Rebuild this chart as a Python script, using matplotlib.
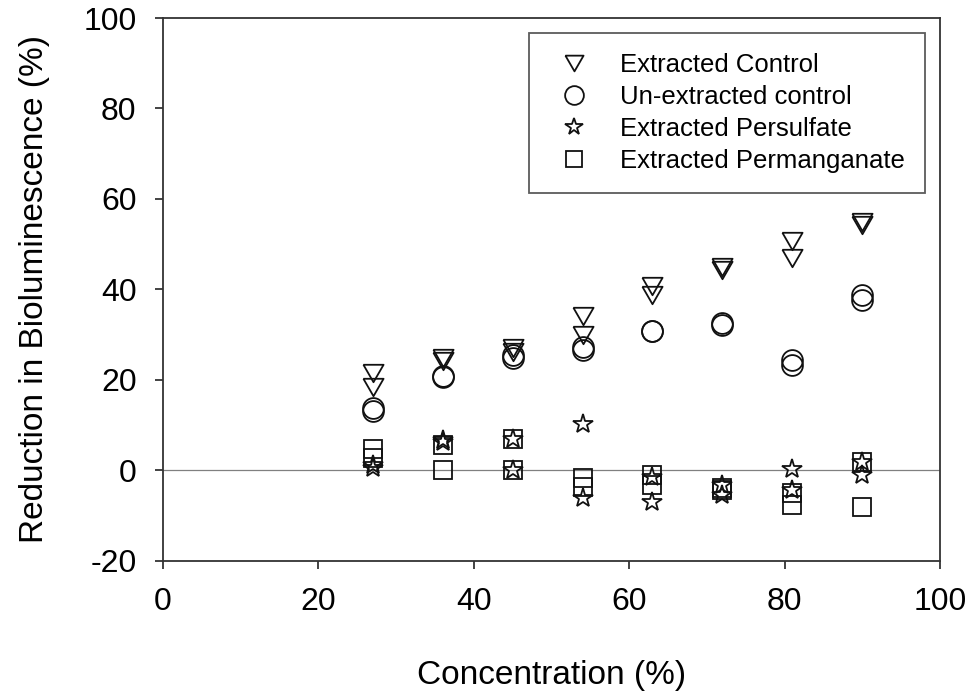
import matplotlib
matplotlib.use("Agg")
import matplotlib.pyplot as plt

plt.rcParams['font.family'] = ['Liberation Sans', 'DejaVu Sans']
plt.rcParams['axes.unicode_minus'] = False

# concentration levels (two replicates each)
conc = [27, 27, 36, 36, 45, 45, 54, 54, 63, 63, 72, 72, 81, 81, 90, 90]

extracted_control = [21.5, 18.4, 24.8, 24.1, 27.0, 26.1, 34.1, 29.9,
                     40.7, 38.7, 44.9, 44.3, 50.7, 46.9, 54.8, 54.3]
unextracted_control = [13.8, 13.2, 20.9, 20.7, 25.5, 24.8, 27.2, 26.6,
                       30.9, 30.7, 32.5, 32.2, 24.4, 23.3, 38.7, 37.6]
persulfate = [1.2, 0.5, 6.7, 6.2, 6.9, 0.0, 10.2, -6.2,
              -1.5, -7.0, -3.3, -5.5, 0.3, -4.4, 1.8, -1.1]
permanganate = [4.7, 2.7, 5.6, 0.0, 6.9, 0.0, -1.7, -3.7,
                -1.1, -3.3, -4.0, -4.4, -5.0, -7.6, 1.8, -8.2]

labels = ['Extracted Control', 'Un-extracted control',
          'Extracted Persulfate', 'Extracted Permanganate']

# equilateral down-pointing triangle
tri_down = [(-1, 0.866), (1, 0.866), (0, -0.866), (-1, 0.866)]

fig = plt.figure(figsize=(9.73, 6.94), dpi=100)
ax = fig.add_axes([0.1675, 0.192, 0.7985, 0.782])

ax.axhline(0, color='#808080', lw=0.9, zorder=1)

style = dict(linestyle='none', mfc='none', mec='#111111', mew=1.3)
ax.plot(conc, extracted_control, marker=tri_down, ms=14.5, label=labels[0], **style)
ax.plot(conc, unextracted_control, marker='o', ms=15, label=labels[1], **style)
ax.plot(conc, persulfate, marker='*', ms=14.5, label=labels[2], **style)
ax.plot(conc, permanganate, marker='s', ms=13, label=labels[3], **style)

ax.set_xlim(0, 100)
ax.set_ylim(-20, 100)
ax.set_xticks(range(0, 101, 20))
ax.set_yticks(range(-20, 101, 20))
ax.tick_params(axis='both', direction='out', length=6, width=1.2,
               labelsize=23, colors='#222222', labelcolor='black')
ax.tick_params(axis='x', pad=13)
ax.tick_params(axis='y', pad=13)
for s in ax.spines.values():
    s.set_linewidth(1.3)
    s.set_color('#333333')

ax.set_xlabel('Concentration (%)', fontsize=24, labelpad=31)
ax.set_ylabel('Reduction in Bioluminescence (%)', fontsize=24, labelpad=24)

leg = ax.legend(loc='upper right', fontsize=18.5, frameon=True, fancybox=False,
                borderpad=0.75, labelspacing=0.32, handlelength=2.02,
                handletextpad=0.78, borderaxespad=0.6, numpoints=1,
                markerscale=0.9)
leg.get_frame().set_edgecolor('#333333')
leg.get_frame().set_linewidth(1.3)

fig.savefig('out.png', dpi=100)
